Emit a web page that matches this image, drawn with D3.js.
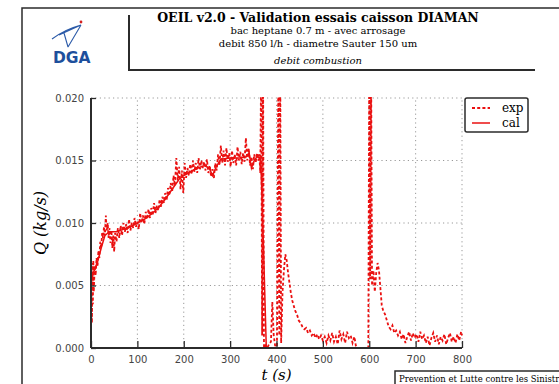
<!DOCTYPE html>
<html>
<head>
<meta charset="utf-8">
<script src="https://cdn.jsdelivr.net/npm/d3@7/dist/d3.min.js"></script>
<style>
  body { margin: 0; background: #fff; }
  svg { display: block; }
</style>
</head>
<body>
<div id="chart"></div>
<script>
// titres
const titleMain = "OEIL v2.0 - Validation essais caisson DIAMAN";
const subTitles = ["bac heptane 0.7 m - avec arrosage", "debit 850 l/h - diametre Sauter 150 um"];
const subject = "debit combustion";
const footer = "Prevention et Lutte contre les Sinistres";

const xTicks = [0, 100, 200, 300, 400, 500, 600, 700, 800];
const yTicks = [0.000, 0.005, 0.010, 0.015, 0.020];

// calcul (cal)
const calT = [0, 3, 8, 15, 22, 30, 40, 55, 70, 85, 100, 115, 130, 145, 160, 175, 190, 200, 215, 230,
  245, 255, 262, 270, 280, 300, 320, 335, 341, 346, 352, 358, 366, 372, 378];
const calQ = [0.0050, 0.0058, 0.0063, 0.0070, 0.0080, 0.0090, 0.0093, 0.0093, 0.0095, 0.0097, 0.0100,
  0.0103, 0.0107, 0.0112, 0.0119, 0.0127, 0.0135, 0.0138, 0.0141, 0.0144, 0.0146, 0.0144, 0.0138,
  0.0145, 0.0151, 0.0152, 0.0152, 0.0153, 0.0156, 0.0144, 0.0150, 0.0153, 0.0152, 0.0080, 0.0000];

// essai (exp)
const expT = [0, 1, 2, 3, 4, 5, 6, 8, 10, 12, 14, 16, 18, 20, 22, 24, 26, 28, 30, 32, 34, 36, 38, 40,
  42, 44, 46, 48, 50, 52, 55, 58, 61, 64, 67, 70, 73, 76, 79, 82, 85, 88, 91, 94, 97, 100, 103, 106,
  109, 112, 115, 118, 121, 124, 127, 130, 133, 136, 139, 142, 145, 148, 151, 154, 157, 160, 163, 166,
  169, 172, 175, 178, 181, 184, 187, 190, 193, 196, 199, 202, 205, 208, 211, 214, 217, 220, 223, 226,
  229, 232, 235, 238, 241, 244, 247, 250, 253, 256, 259, 262, 265, 268, 271, 274, 277, 280, 283, 286,
  289, 292, 295, 298, 301, 304, 307, 310, 313, 316, 319, 322, 325, 328, 331, 334, 337, 340, 343, 346,
  349, 352, 355, 358, 361, 363,
  365, 367, 369, 371, 373, 376, 380, 384, 388, 391, 394, 397, 401, 404, 406, 408, 410, 413, 416, 419,
  422, 425, 428, 431, 434, 437, 440, 444, 448, 452, 456, 460, 464, 468, 472, 476, 480, 484, 488, 492,
  496, 500, 504, 508, 512, 516, 520, 524, 528, 532, 536, 540, 544, 548, 552, 556, 560, 564, 568, 571,
  574, 598, 600, 602, 604, 606, 609, 612, 615, 618, 621, 624, 627, 630, 634, 638, 642, 646, 650, 654,
  658, 662, 666, 670, 674, 678, 682, 686, 690, 694, 698, 702, 706, 710, 714, 718, 722, 726, 730, 734,
  738, 742, 746, 750, 754, 758, 762, 766, 770, 774, 778, 782, 786, 790, 794, 798, 800];
const expQ = [0.0030, 0.0068, 0.0020, 0.0062, 0.0035, 0.0070, 0.0045, 0.0066, 0.0058, 0.0072, 0.0065,
  0.0078, 0.0072, 0.0085, 0.0080, 0.0092, 0.0088, 0.0097, 0.0090, 0.0106, 0.0094, 0.0100, 0.0088,
  0.0096, 0.0084, 0.0094, 0.0080, 0.0090, 0.0077, 0.0092, 0.0085, 0.0096, 0.0088, 0.0098, 0.0090,
  0.0100, 0.0093, 0.0099, 0.0092, 0.0103, 0.0094, 0.0100, 0.0096, 0.0104, 0.0097, 0.0101, 0.0095,
  0.0108, 0.0100, 0.0106, 0.0099, 0.0109, 0.0103, 0.0111, 0.0104, 0.0112, 0.0106, 0.0116, 0.0108,
  0.0114, 0.0110, 0.0119, 0.0113, 0.0121, 0.0116, 0.0124, 0.0118, 0.0128, 0.0122, 0.0132, 0.0125,
  0.0138, 0.0130, 0.0152, 0.0134, 0.0145, 0.0127, 0.0142, 0.0124, 0.0148, 0.0136, 0.0144, 0.0138,
  0.0147, 0.0139, 0.0150, 0.0141, 0.0148, 0.0140, 0.0152, 0.0143, 0.0150, 0.0144, 0.0149, 0.0142,
  0.0151, 0.0140, 0.0146, 0.0137, 0.0143, 0.0136, 0.0148, 0.0142, 0.0155, 0.0146, 0.0162, 0.0148,
  0.0158, 0.0146, 0.0160, 0.0149, 0.0156, 0.0145, 0.0158, 0.0148, 0.0155, 0.0146, 0.0161, 0.0150,
  0.0157, 0.0147, 0.0156, 0.0149, 0.0168, 0.0150, 0.0160, 0.0146, 0.0153, 0.0143, 0.0155, 0.0148,
  0.0156, 0.0150, 0.0155,
  0.0140, 0.0230, 0.0010, 0.0230, 0.0000, 0.0002, 0.0000, 0.0003, 0.0005, 0.0037, 0.0010, 0.0002,
  0.0001, 0.0230, 0.0010, 0.0230, 0.0004, 0.0045, 0.0062, 0.0075, 0.0070, 0.0060, 0.0052, 0.0044,
  0.0038, 0.0034, 0.0030, 0.0027, 0.0022, 0.0020, 0.0017, 0.0015, 0.0016, 0.0012, 0.0014, 0.0010,
  0.0012, 0.0008, 0.0011, 0.0007, 0.0010, 0.0006, 0.0009, 0.0004, 0.0010, 0.0006, 0.0012, 0.0005,
  0.0009, 0.0003, 0.0014, 0.0007, 0.0011, 0.0004, 0.0013, 0.0008, 0.0010, 0.0004, 0.0009, 0.0002,
  0.0000, 0.0000, 0.0230, 0.0055, 0.0230, 0.0050, 0.0062, 0.0045, 0.0060, 0.0068, 0.0062, 0.0048,
  0.0034, 0.0030, 0.0027, 0.0022, 0.0017, 0.0015, 0.0018, 0.0012, 0.0014, 0.0010, 0.0013, 0.0007,
  0.0011, 0.0004, 0.0009, 0.0013, 0.0006, 0.0012, 0.0008, 0.0011, 0.0005, 0.0013, 0.0007, 0.0010,
  0.0004, 0.0009, 0.0002, 0.0008, 0.0012, 0.0005, 0.0010, 0.0003, 0.0009, 0.0006, 0.0011, 0.0003,
  0.0008, 0.0012, 0.0005, 0.0009, 0.0004, 0.0011, 0.0006, 0.0013, 0.0010];

const W = 559, H = 384;
const red = "#ea1010";
const dark = "#2b2b2b";

const svg = d3.select("#chart").append("svg")
  .attr("width", W)
  .attr("height", H);

// cadre de page
svg.append("path")
  .attr("d", `M22,${H} L22,8 L${W},8`)
  .attr("fill", "none")
  .attr("stroke", dark)
  .attr("stroke-width", 1.5);

// cartouche titre
svg.append("path")
  .attr("d", "M129,15 L129,70 L535,70")
  .attr("fill", "none")
  .attr("stroke", dark)
  .attr("stroke-width", 2);

const tx = 318;
svg.append("text")
  .attr("x", tx).attr("y", 22)
  .attr("text-anchor", "middle")
  .style("font-family", "DejaVu Serif")
  .style("font-weight", "bold")
  .style("font-size", "12.5px")
  .text(titleMain);

subTitles.forEach((s, i) => {
  svg.append("text")
    .attr("x", tx).attr("y", 34 + i * 12.5)
    .attr("text-anchor", "middle")
    .style("font-family", "DejaVu Serif")
    .style("font-size", "10px")
    .text(s);
});

svg.append("text")
  .attr("x", tx).attr("y", 64)
  .attr("text-anchor", "middle")
  .style("font-family", "DejaVu Serif")
  .style("font-style", "italic")
  .style("font-size", "10px")
  .text(subject);

// logo DGA
const logo = svg.append("g");
logo.append("path")
  .attr("d", "M52,39 C60,33 70,28 81,25 M81,25 L59,35 M81,25 L68,47 M64,33 L68,47")
  .attr("fill", "none")
  .attr("stroke", "#2b5aa8")
  .attr("stroke-width", 1.1);
logo.append("circle")
  .attr("cx", 81).attr("cy", 22).attr("r", 1.4)
  .attr("fill", "#d42020");
logo.append("text")
  .attr("x", 53).attr("y", 63)
  .style("font-family", "DejaVu Sans")
  .style("font-weight", "bold")
  .style("font-size", "15.5px")
  .attr("fill", "#1d4f9c")
  .text("DGA");

// zone de trace
const x = d3.scaleLinear().domain([0, 800]).range([91, 462]);
const y = d3.scaleLinear().domain([0, 0.020]).range([348, 98]);

svg.append("defs").append("clipPath").attr("id", "clip")
  .append("rect")
  .attr("x", 91).attr("y", 97)
  .attr("width", 372).attr("height", 252);

// grille
const grid = svg.append("g")
  .attr("stroke", "#999")
  .attr("stroke-width", 1)
  .attr("stroke-dasharray", "1.2,3.2");
grid.selectAll(".gx").data(xTicks.slice(1)).enter().append("line")
  .attr("x1", d => x(d)).attr("x2", d => x(d))
  .attr("y1", y(0)).attr("y2", y(0.020));
grid.selectAll(".gy").data(yTicks.slice(1)).enter().append("line")
  .attr("x1", x(0)).attr("x2", x(800))
  .attr("y1", d => y(d)).attr("y2", d => y(d));

// courbes
const exp = expT.map((t, i) => [t, expQ[i]]);
const cal = calT.map((t, i) => [t, calQ[i]]);
const line = d3.line().x(d => x(d[0])).y(d => y(d[1]));

const plot = svg.append("g").attr("clip-path", "url(#clip)");
plot.append("path")
  .datum(exp)
  .attr("d", line)
  .attr("fill", "none")
  .attr("stroke", red)
  .attr("stroke-width", 1.8)
  .attr("stroke-dasharray", "3,2.2");
plot.append("path")
  .datum(cal)
  .attr("d", line)
  .attr("fill", "none")
  .attr("stroke", red)
  .attr("stroke-width", 1.5);

// axes
const xAxis = svg.append("g")
  .attr("transform", `translate(0,${y(0)})`)
  .call(d3.axisBottom(x).tickValues(xTicks).tickSize(-7).tickPadding(8).tickFormat(d3.format("d")));
const yAxis = svg.append("g")
  .attr("transform", `translate(${x(0)},0)`)
  .call(d3.axisLeft(y).tickValues(yTicks).tickSize(-5).tickPadding(7).tickFormat(d3.format(".3f")));

[xAxis, yAxis].forEach(a => {
  a.select(".domain").attr("stroke", dark).attr("stroke-width", 2);
  a.selectAll(".tick line").attr("stroke", dark).attr("stroke-width", 1.3);
  a.selectAll(".tick text")
    .attr("fill", "#444")
    .style("font-family", "DejaVu Sans")
    .style("font-size", "10px");
});
xAxis.select(".domain").attr("d", `M${x(0)},0H${x(800)}`);
yAxis.select(".domain").attr("d", `M0,${y(0)}V${y(0.020)}`);

// titres d'axes
svg.append("text")
  .attr("x", x(400)).attr("y", 380)
  .attr("text-anchor", "middle")
  .style("font-family", "DejaVu Serif")
  .style("font-style", "italic")
  .style("font-size", "15px")
  .text("t (s)");
svg.append("text")
  .attr("transform", `translate(46,${y(0.010)}) rotate(-90)`)
  .attr("text-anchor", "middle")
  .style("font-family", "DejaVu Serif")
  .style("font-style", "italic")
  .style("font-size", "16px")
  .text("Q (kg/s)");

// legende
const leg = svg.append("g");
leg.append("rect")
  .attr("x", 465).attr("y", 98)
  .attr("width", 63).attr("height", 34)
  .attr("rx", 2)
  .attr("fill", "#fff")
  .attr("stroke", dark)
  .attr("stroke-width", 1.5);
const legItems = [
  { name: "exp", dash: "3,2.2" },
  { name: "cal", dash: null }
];
legItems.forEach((it, i) => {
  const ly = 108 + i * 15;
  leg.append("line")
    .attr("x1", 472).attr("x2", 490)
    .attr("y1", ly).attr("y2", ly)
    .attr("stroke", red)
    .attr("stroke-width", it.dash ? 1.8 : 1.5)
    .attr("stroke-dasharray", it.dash);
  leg.append("text")
    .attr("x", 502).attr("y", ly + 4)
    .style("font-family", "DejaVu Serif")
    .style("font-size", "12px")
    .text(it.name);
});

// pied de page
svg.append("rect")
  .attr("x", 395).attr("y", 371)
  .attr("width", 200).attr("height", 30)
  .attr("fill", "none")
  .attr("stroke", dark)
  .attr("stroke-width", 1.5);
svg.append("text")
  .attr("x", 399).attr("y", 382)
  .style("font-family", "DejaVu Serif")
  .style("font-size", "8.5px")
  .text(footer);
</script>
</body>
</html>
